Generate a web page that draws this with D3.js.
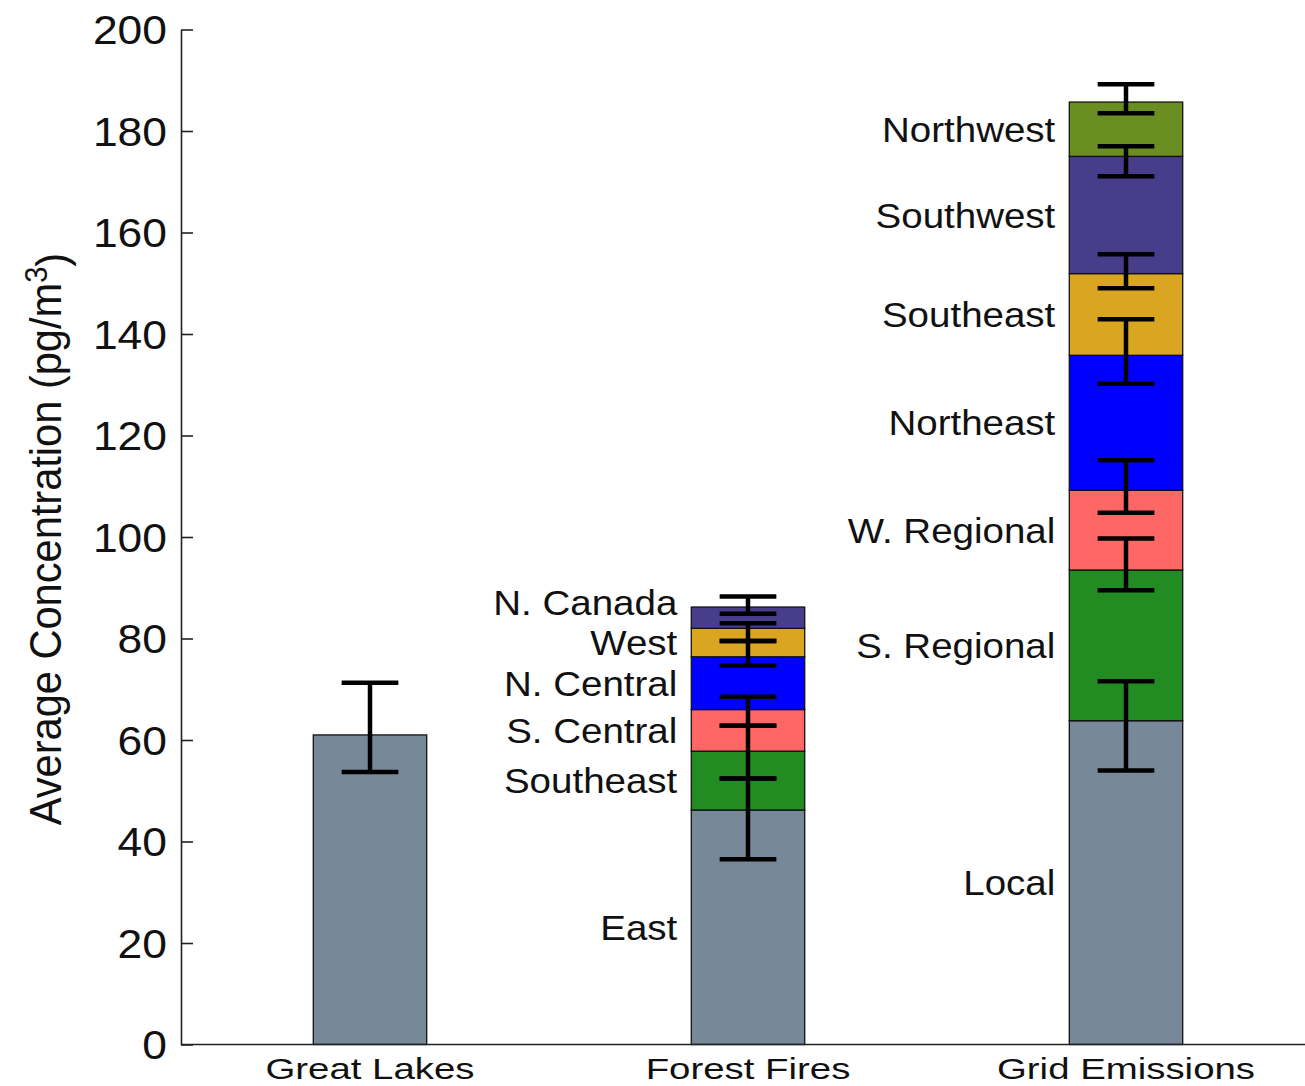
<!DOCTYPE html>
<html>
<head>
<meta charset="utf-8">
<script src="https://cdn.jsdelivr.net/npm/d3@7"></script>
<style>
  html, body { margin: 0; padding: 0; background: #fff; }
  svg { display: block; font-family: "Liberation Sans", Arial, Helvetica, sans-serif; }
</style>
</head>
<body>
<svg id="chart" width="1305" height="1086"></svg>
<script>
// ---- data -------------------------------------------------------------
const categories = ["Great Lakes", "Forest Fires", "Grid Emissions"];
const yTicks = [0, 20, 40, 60, 80, 100, 120, 140, 160, 180, 200];

// Great Lakes: single measured value
const lakesNames = [""];
const lakesValues = [61.0];
const lakesErrLow = [53.7];
const lakesErrHigh = [71.3];
const lakesColors = ["#778899"];

// Forest Fires: stacked source regions (bottom to top)
const fireNames = ["East", "Southeast", "S. Central", "N. Central", "West", "N. Canada"];
const fireValues = [46.2, 11.6, 8.2, 10.4, 5.6, 4.2];
const fireErrLow = [36.5, 52.4, 62.8, 74.7, 79.5, 84.9];
const fireErrHigh = [52.4, 62.8, 68.5, 79.5, 83.0, 88.3];
const fireColors = ["#778899", "#228B22", "#FF6666", "#0000FF", "#DAA520", "#483D8B"];

// Grid Emissions: stacked source regions (bottom to top)
const gridNames = ["Local", "S. Regional", "W. Regional", "Northeast", "Southeast", "Southwest", "Northwest"];
const gridValues = [63.8, 29.7, 15.7, 26.6, 16.1, 23.1, 10.7];
const gridErrLow = [54.0, 89.5, 104.8, 130.2, 149.0, 171.1, 183.5];
const gridErrHigh = [71.6, 99.7, 115.1, 142.9, 155.7, 177.0, 189.2];
const gridColors = ["#778899", "#228B22", "#FF6666", "#0000FF", "#DAA520", "#483D8B", "#6B8E23"];

// ---- layout ------------------------------------------------------------
const svg = d3.select("#chart");
const x = d3.scaleLinear().domain([0.5, 3.5]).range([181, 1315]);
const y = d3.scaleLinear().domain([0, 200]).range([1044.5, 29.5]);
const barWidth = 0.3;   // in category units
const capWidth = 0.15;

// build stacked segments for each group
function stackGroup(index, names, values, lo, hi, colors) {
  let base = 0;
  return values.map((v, i) => {
    const seg = { group: index, name: names[i], y0: base, y1: base + v,
                  lo: lo[i], hi: hi[i], color: colors[i] };
    base += v;
    return seg;
  });
}
const groups = [
  stackGroup(1, lakesNames, lakesValues, lakesErrLow, lakesErrHigh, lakesColors),
  stackGroup(2, fireNames, fireValues, fireErrLow, fireErrHigh, fireColors),
  stackGroup(3, gridNames, gridValues, gridErrLow, gridErrHigh, gridColors)
];
const segments = groups.flat();

// ---- bars --------------------------------------------------------------
svg.append("g").selectAll("rect")
  .data(segments).join("rect")
  .attr("x", d => x(d.group - barWidth / 2))
  .attr("width", d => x(d.group + barWidth / 2) - x(d.group - barWidth / 2))
  .attr("y", d => y(d.y1))
  .attr("height", d => y(d.y0) - y(d.y1))
  .attr("fill", d => d.color)
  .attr("stroke", "#111")
  .attr("stroke-width", 1.3);

// ---- error bars --------------------------------------------------------
const eb = svg.append("g").attr("stroke", "#000").attr("stroke-width", 4.5).attr("fill", "none");
segments.forEach(d => {
  const cx = x(d.group);
  eb.append("line").attr("x1", cx).attr("x2", cx).attr("y1", y(d.lo)).attr("y2", y(d.hi));
  [d.lo, d.hi].forEach(v => {
    eb.append("line")
      .attr("x1", x(d.group - capWidth / 2)).attr("x2", x(d.group + capWidth / 2))
      .attr("y1", y(v)).attr("y2", y(v));
  });
});

// ---- segment labels (left of each stacked bar, spaced to avoid overlap) ----
const labelSize = 35, labelStretch = 1.1, minGap = 40;
groups.slice(1).forEach(g => {
  const lx = x(g[0].group - barWidth / 2) - 14;
  let prev = Infinity;
  const placed = g.map(d => {
    let py = y((d.y0 + d.y1) / 2);
    if (prev - py < minGap) py = prev - minGap;
    prev = py;
    return { name: d.name, py };
  });
  svg.append("g").selectAll("text")
    .data(placed).join("text")
    .attr("transform", d => `translate(${lx},${d.py}) scale(${labelStretch},1)`)
    .attr("text-anchor", "end")
    .attr("dy", "0.36em")
    .attr("font-size", labelSize)
    .attr("fill", "#111")
    .text(d => d.name);
});

// ---- axes --------------------------------------------------------------
const yAxis = d3.axisLeft(y).tickValues(yTicks).tickSizeInner(-12).tickSizeOuter(0).tickPadding(14);
const gy = svg.append("g").attr("transform", `translate(${x(0.5)},0)`).call(yAxis);
gy.select(".domain").attr("stroke", "#222").attr("stroke-width", 1.6);
gy.selectAll(".tick line").attr("stroke", "#222").attr("stroke-width", 1.6);
gy.selectAll(".tick text")
  .attr("x", null)
  .attr("dy", "0.36em")
  .attr("transform", "translate(-14,0) scale(1.11,1)")
  .attr("font-size", 40)
  .attr("font-family", "Liberation Sans, Arial, sans-serif")
  .attr("fill", "#111");

svg.append("line")
  .attr("x1", x(0.5)).attr("x2", x(3.5))
  .attr("y1", y(0)).attr("y2", y(0))
  .attr("stroke", "#222").attr("stroke-width", 1.6);

svg.append("g").selectAll("text")
  .data(categories).join("text")
  .attr("transform", (d, i) => `translate(${x(i + 1)},1079) scale(1.28,1)`)
  .attr("text-anchor", "middle")
  .attr("font-size", 30)
  .attr("fill", "#111")
  .text(d => d);

// y-axis title with superscript unit
const yt = svg.append("text")
  .attr("transform", `translate(61,${(250 + 828) / 2}) rotate(-90) scale(1.04,1.1)`)
  .attr("text-anchor", "middle")
  .attr("font-size", 40)
  .attr("fill", "#111");
yt.append("tspan").text("Average Concentration (pg/m");
yt.append("tspan").attr("dy", "-0.45em").attr("font-size", 28).text("3");
yt.append("tspan").attr("dy", "0.45em").text(")");
</script>
</body>
</html>
